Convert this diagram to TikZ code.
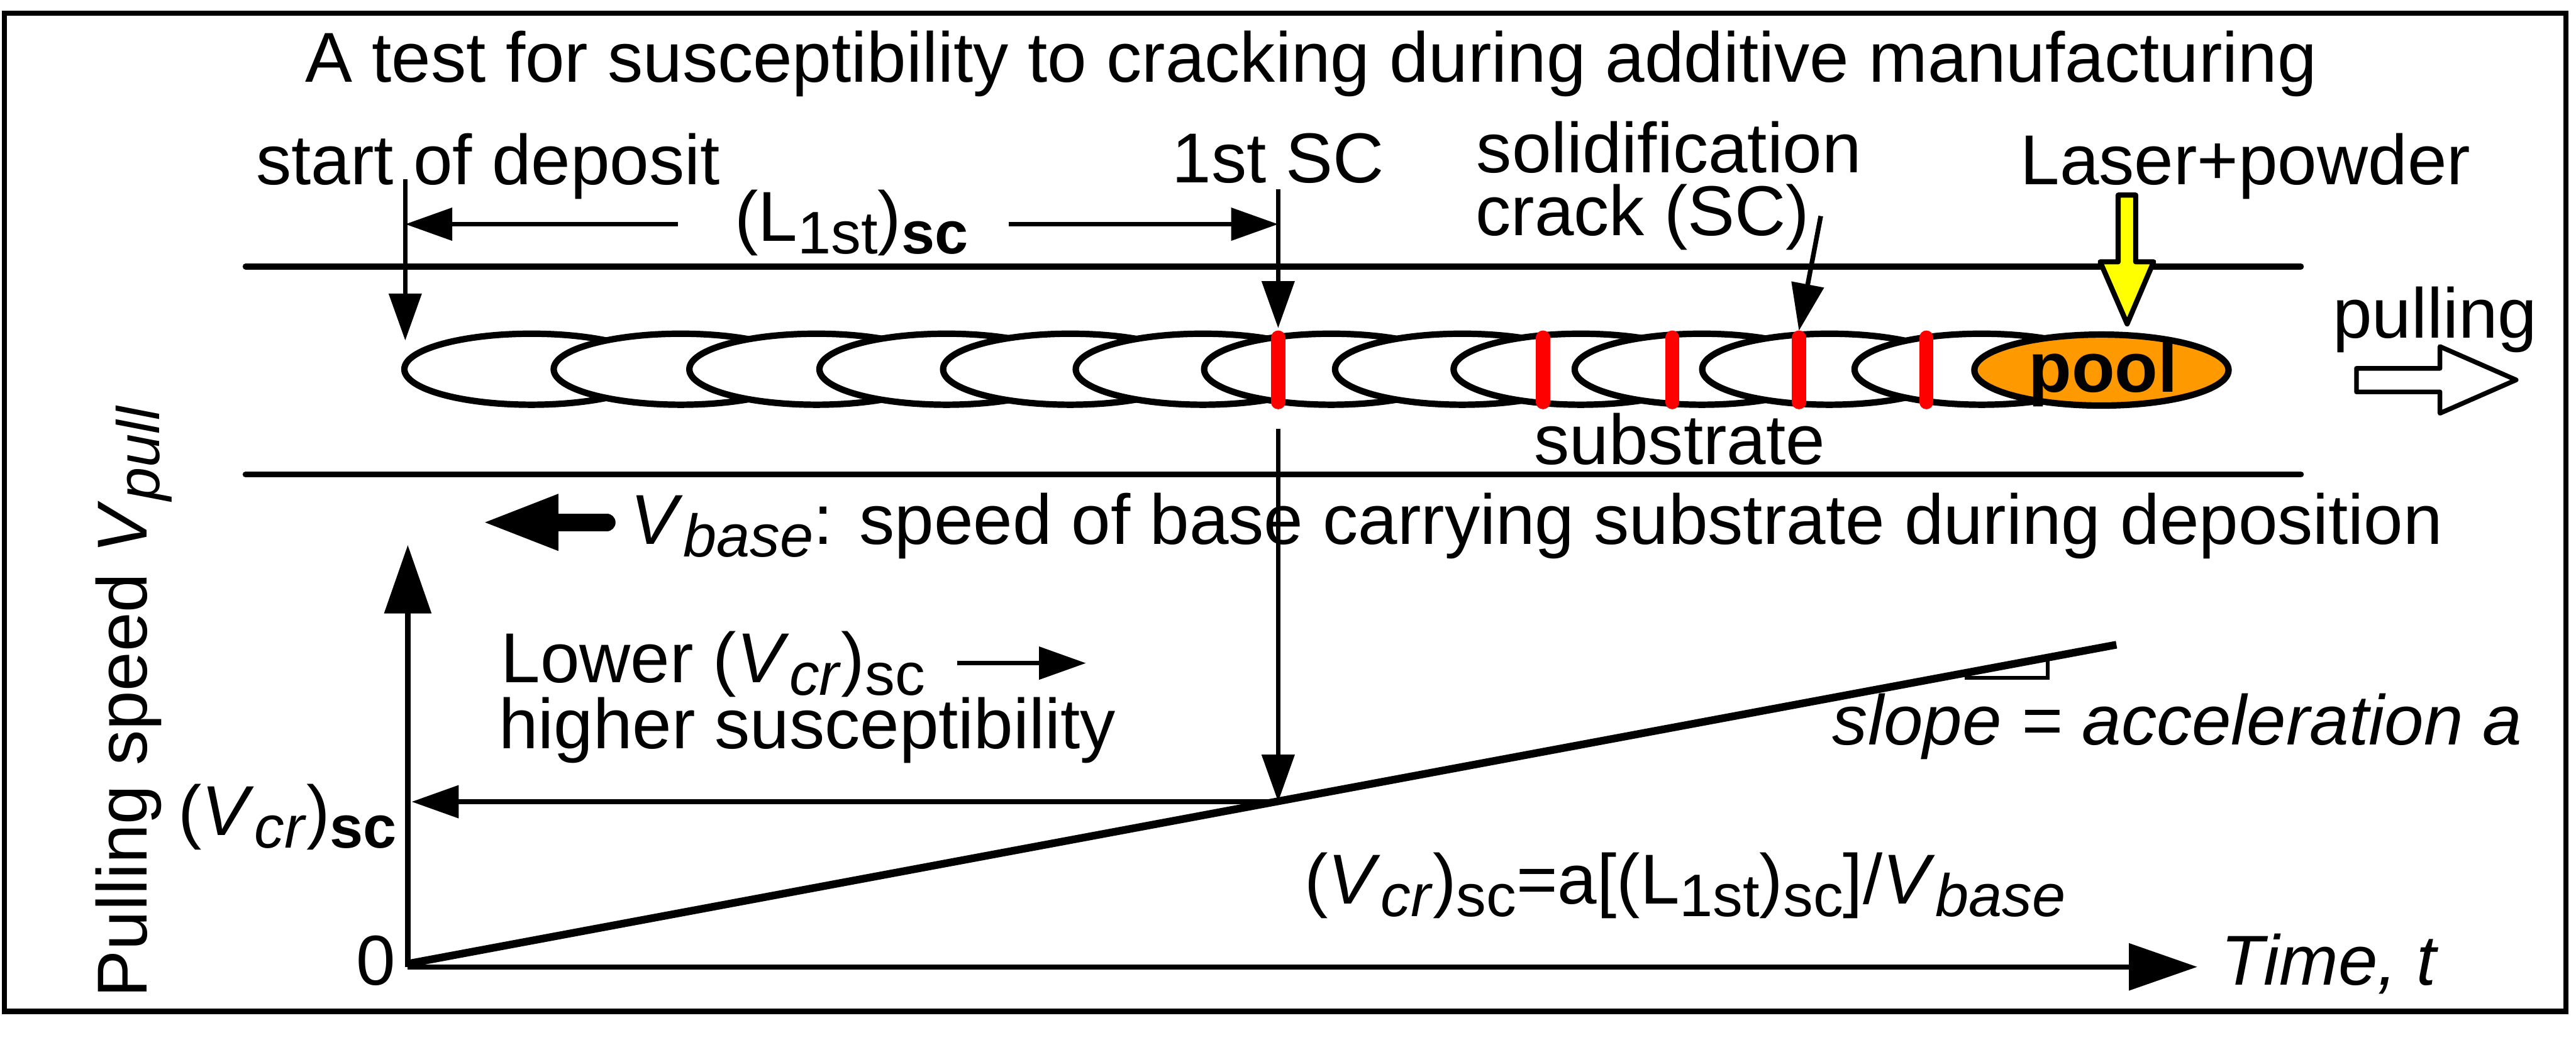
\documentclass[tikz,border=0pt]{standalone}
\usepackage{fontspec}
\setmainfont{Liberation Sans}
\usepackage{graphicx}
\usetikzlibrary{arrows.meta,positioning}
\definecolor{poolorange}{HTML}{FF9900}
\definecolor{laseryellow}{HTML}{FFFF00}
\definecolor{crackred}{HTML}{FF0000}
\newcommand{\lsub}[1]{\raisebox{-0.18em}{\scalebox{0.85}{#1}}}
\tikzset{
  lbl/.style={font=\fontsize{47}{42}\selectfont,inner sep=0pt},
  thinarr/.style={line width=1.1mm,-{Triangle[length=1.1cm,width=0.75cm]}},
  axisarr/.style={line width=1.2mm,-{Triangle[length=1.6cm,width=1.08cm]}},
  bead/.style={line width=1.5mm,fill=white},
  crackline/.style={line width=3.3mm,crackred,line cap=round},
  blockarr/.style={line width=1.2mm,line join=round}
}
\begin{document}
\begin{tikzpicture}[x=1cm,y=-1cm]
\useasboundingbox (0,0) rectangle (60.20,24.30);
\draw[line width=1.2mm] (0.10,0.31) rectangle (59.97,23.64);
\node[lbl,anchor=base] (title) at (30.64,1.92) {A test for susceptibility to cracking during additive manufacturing};
% substrate and deposit
\draw[line width=1.4mm,line cap=round] (5.74,6.23) -- (53.77,6.23);
\draw[line width=1.4mm,line cap=round] (5.74,11.09) -- (53.77,11.09);
\foreach \cx in {12.42,15.91,19.08,22.12,25.01,28.11,31.11,34.17,36.94,39.77,42.75,46.31}
  \draw[bead] (\cx,8.63) ellipse [x radius=2.97,y radius=0.83];
\draw[bead,fill=poolorange] (49.11,8.65) ellipse [x radius=2.97,y radius=0.83];
\foreach \x in {29.87,36.06,39.08,42.04,45.02}
  \draw[crackline] (\x,7.89) -- (\x,9.40);
\node[lbl,anchor=base,font=\fontsize{47}{42}\selectfont\bfseries] (pool) at (49.15,9.16) {pool};
\node[lbl,anchor=base west] (subs) at (35.85,10.86) {substrate};
% labels above
\node[lbl,anchor=base west] (sdep) at (5.98,4.31) {start of deposit};
\node[lbl,anchor=base] (firstsc) at (29.87,4.27) {1st SC};
\node[lbl,anchor=base] (Lsc) at (19.90,5.64) {(L\lsub{1st})\lsub{\textbf{sc}}};
\node[lbl,anchor=base west] (solid) at (34.50,4.04) {solidification};
\node[lbl,anchor=base west] (crk) at (34.48,5.51) {crack (SC)};
\node[lbl,anchor=base west] (laser) at (47.21,4.31) {Laser+powder};
\node[lbl,anchor=base west] (pull) at (54.51,7.90) {pulling};
\coordinate (sdtop) at (9.47,4.19);
\coordinate (sdtip) at (9.47,7.96);
\coordinate (sctop) at (29.87,4.43);
\coordinate (sctip) at (29.87,7.67);
\coordinate (crtop) at (42.55,5.05);
\coordinate (crtip) at (42.04,7.73);
\draw[thinarr] (sdtop) -- (sdtip);
\draw[thinarr] (sctop) -- (sctip);
\draw[thinarr] (crtop) -- (crtip);
\draw[thinarr] (15.84,5.24) -- (sdtop |- 0,5.24);
\draw[thinarr] (23.57,5.24) -- (sctop |- 0,5.24);
\draw[blockarr,fill=laseryellow] (49.50,4.56) -- (49.91,4.56) -- (49.91,6.12) -- (50.33,6.12) -- (49.71,7.57) -- (49.08,6.12) -- (49.50,6.12) -- cycle;
\draw[blockarr,line width=1.1mm,fill=white] (55.07,8.61) -- (57.02,8.61) -- (57.02,8.10) -- (58.80,8.88) -- (57.02,9.66) -- (57.02,9.16) -- (55.07,9.16) -- cycle;
% base speed
\draw[line width=4.1mm,line cap=round,-{Triangle[length=1.8cm,width=1.2cm]}] (14.18,12.21) -- (11.25,12.21);
\node[lbl,anchor=base west] (vbase) at (14.73,12.72) {\textit{V}\lsub{\textit{base}}: speed of base carrying substrate during deposition};
% graph
\coordinate (o) at (9.53,22.60);
\coordinate (cr) at (29.87,18.74);
\draw[axisarr] (o) -- (9.53,12.74);
\draw[axisarr] (o) -- (51.35,22.60);
\draw[line width=1.8mm] (9.57,22.52) -- (49.46,15.07);
\draw[line width=0.9mm] (45.91,15.84) -- (47.85,15.84) -- (47.85,15.37);
\draw[thinarr] (29.87,10.03) -- (cr);
\draw[thinarr] (cr) -- (9.62,18.74);
\node[lbl,anchor=base,rotate=90] (vpull) at (3.43,16.40) {Pulling speed \textit{V}\lsub{\textit{pull}}};
\node[lbl,anchor=base west] (lower) at (11.70,15.95) {Lower (\textit{V}\lsub{\textit{cr}})\lsub{sc}};
\node[lbl,anchor=base west] (higher) at (11.65,17.50) {higher susceptibility};
\draw[thinarr] (22.37,15.50) -- (25.38,15.50);
\node[lbl,anchor=base east] (vcr) at (9.28,19.52) {(\textit{V}\lsub{\textit{cr}})\lsub{\textbf{sc}}};
\node[lbl,anchor=base east] (zero) at (9.25,23.03) {0};
\node[lbl,anchor=base west] (slope) at (42.82,17.41) {\textit{slope = acceleration a}};
\node[lbl,anchor=base west] (formula) at (30.48,21.13) {(\textit{V}\lsub{\textit{cr}})\lsub{sc}=a[(L\lsub{1st})\lsub{sc}]/\textit{V}\lsub{\textit{base}}};
\node[lbl,anchor=base west] (time) at (51.90,23.02) {\textit{Time, t}};
\end{tikzpicture}
\end{document}
